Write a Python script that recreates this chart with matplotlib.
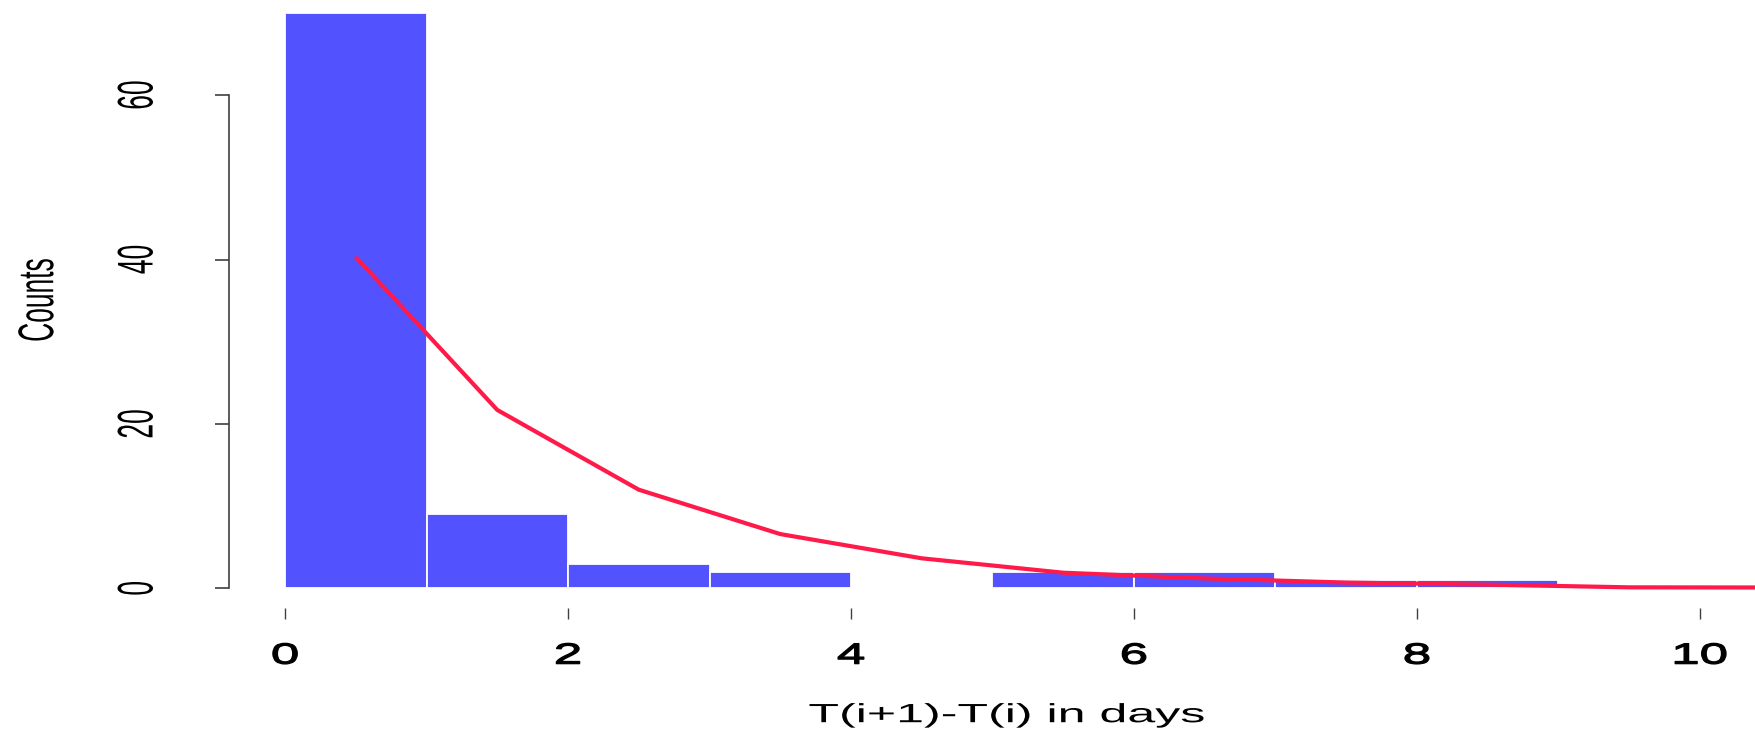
import matplotlib
matplotlib.use("Agg")
import matplotlib.pyplot as plt
from matplotlib.patheffects import AbstractPathEffect
from matplotlib.transforms import Affine2D

# histogram of waiting times between events (1-day bins) and fitted curve
bin_edges = [0, 1, 2, 3, 4, 5, 6, 7, 8, 9]
counts = [70, 9, 3, 2, 0, 2, 2, 1, 1]
fit_x = [0.5, 1.5, 2.5, 3.5, 4.5, 5.5, 6.5, 7.5, 8.5, 9.5, 10.5]
fit_y = [40.3, 21.7, 12.0, 6.6, 3.65, 1.9, 1.2, 0.7, 0.45, 0.12, 0.1]
xticks = [0, 2, 4, 6, 8, 10]
yticks = [0, 20, 40, 60]

BAR_COLOR = "#5252ff"
FIT_COLOR = "#ff1a4a"


class Stretch(AbstractPathEffect):
    """Widen glyphs horizontally about their own centre, optionally thickened."""
    def __init__(self, sx=1.0, stroke=0.0):
        super().__init__()
        self.sx = sx
        self.stroke = stroke

    def draw_path(self, renderer, gc, tpath, affine, rgbFace=None):
        bb = tpath.get_extents(affine)
        cx = 0.5 * (bb.x0 + bb.x1)
        st = Affine2D().translate(-cx, 0).scale(self.sx, 1.0).translate(cx, 0)
        gc0 = renderer.new_gc()
        gc0.copy_properties(gc)
        if self.stroke > 0 and rgbFace is not None:
            gc0.set_linewidth(self.stroke)
            gc0.set_foreground(rgbFace)
        renderer.draw_path(gc0, tpath, affine + st, rgbFace)
        gc0.restore()


wide = [Stretch(1.9)]
plt.rcParams['font.family'] = ['Liberation Sans', 'DejaVu Sans']

W, H = 1755, 731
fig = plt.figure(figsize=(W / 100, H / 100), dpi=100)
ax = fig.add_axes([229 / W, (H - 600) / H, (W - 229) / W, 600 / H])

widths = [b - a for a, b in zip(bin_edges[:-1], bin_edges[1:])]
ax.bar(bin_edges[:-1], counts, width=widths, align='edge',
       color=BAR_COLOR, edgecolor='white', linewidth=1.3)
ax.plot(fit_x, fit_y, color=FIT_COLOR, lw=3.0, solid_capstyle='butt')

ax.set_xlim(-0.396, 10.389)
ax.set_ylim(-1.42, 71.57)

for s in ['top', 'right', 'bottom']:
    ax.spines[s].set_visible(False)
ax.spines['left'].set_bounds(0, 60)
ax.spines['left'].set_color('#404040')
ax.spines['left'].set_linewidth(1.2)
ax.spines['bottom'].set_position(('outward', 6))

ax.set_xticks(xticks)
ax.set_yticks(yticks)
ax.tick_params(axis='x', length=8, width=1, color='#404040', pad=16, labelsize=21)
ax.tick_params(axis='y', length=10, width=1.2, color='#404040', pad=56, labelsize=19)
for lab in ax.get_yticklabels():
    lab.set_rotation(90)
    lab.set_ha('center')
    lab.set_va('center')
    lab.set_path_effects(wide)
for lab in ax.get_xticklabels():
    lab.set_path_effects([Stretch(1.75, stroke=0.9)])

ax.set_xlabel('T(i+1)-T(i) in days', fontsize=19, path_effects=wide)
ax.xaxis.set_label_coords((1007 - 229) / (W - 229), -0.172)
ax.set_ylabel('Counts', fontsize=19, path_effects=wide)
ax.yaxis.set_label_coords((50 - 229) / (W - 229), 0.5)

fig.savefig('out.png', dpi=100)
